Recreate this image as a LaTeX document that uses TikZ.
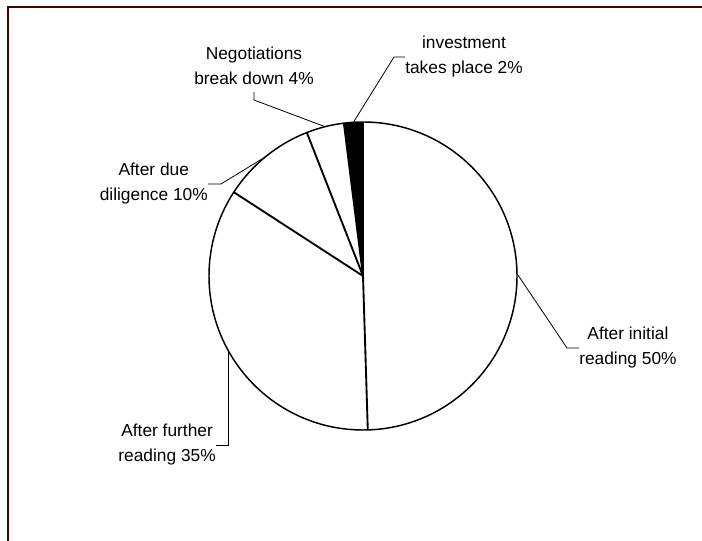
\documentclass[tikz,border=0pt]{standalone}
\usepackage{fontspec}
\setmainfont{Liberation Sans}
\usepackage{xcolor}
\usetikzlibrary{positioning, calc}

\definecolor{framered}{RGB}{62,8,8}

\begin{document}
\begin{tikzpicture}[
    x=0.75pt, y=0.75pt,
    every node/.style={font=\fontsize{13}{18.75}\selectfont},
    lbl/.style={align=center, inner sep=0pt},
    slice/.style={line width=1.4pt, black},
    rim/.style={line width=1.1pt, black},
    leader/.style={line width=0.6pt, black},
    frameline/.style={line width=1.5pt, framered},
]
    \useasboundingbox (0,0) rectangle (702,541);

    % ── Outer frame (top and left edges) ──
    \draw[frameline] (8,0) -- (8,534) -- (702,534);

    % ── Pie ──
    \coordinate (c) at (363,265);

    % investment slice (filled)
    \fill[black] (c) -- ++(-262.871:154)
        arc[start angle=-262.871, end angle=-270, radius=154] -- cycle;

    % slice boundaries
    \foreach \a in {90, -88.218, -212.970, -248.614, -262.871}
        \draw[slice] (c) -- ++(\a:154);

    \draw[rim] (c) circle[radius=154];

    % rim points at slice middles
    \coordinate (pInit) at ($(c)+(0.891:154)$);
    \coordinate (pFurther) at ($(c)+(-150.594:154)$);
    \coordinate (pDue) at ($(c)+(-230.792:154)$);
    \coordinate (pNeg) at ($(c)+(-255.743:154)$);
    \coordinate (pInv) at ($(c)+(-266.436:154)$);

    % ── Labels ──
    \node[lbl, anchor=west] (init) at (579,193) {After initial\\reading 50\%};
    \node[lbl, anchor=east] (further) at (216,96) {After further\\reading 35\%};
    \node[lbl, anchor=east] (due) at (208,357) {After due\\diligence 10\%};
    \node[lbl, anchor=south, inner ysep=5pt] (neg) at (254,449) {Negotiations\\break down 4\%};
    \node[lbl, anchor=west] (inv) at (405,484) {investment\\takes place 2\%};

    % ── Leader lines ──
    \draw[leader] (pInit) -- (567,193) -- (init.west);
    \draw[leader] (pFurther) |- (further.east);
    \draw[leader] (pDue) -- (221,357) -- (due.east);
    \draw[leader] (pNeg) -- (254,441) -- (neg.south);
    \draw[leader] (pInv) -- (394,484) -- (inv.west);

\end{tikzpicture}
\end{document}
